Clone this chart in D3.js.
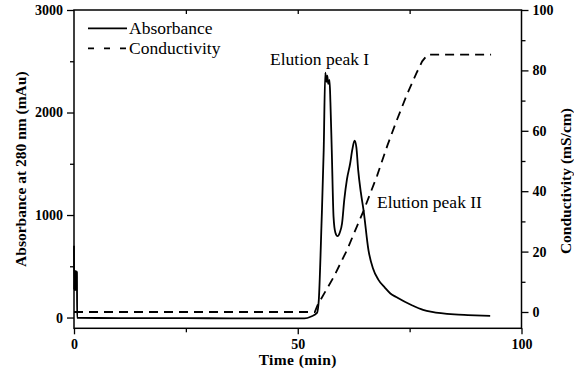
<!DOCTYPE html>
<html><head><meta charset="utf-8">
<script src="https://cdn.jsdelivr.net/npm/d3@7"></script>
<style>
body{margin:0;background:#fff;}
svg{display:block;}
svg text{font-family:"Liberation Serif","Tinos","Times New Roman","DejaVu Serif",serif;}
</style></head>
<body>
<svg id="chart" width="574" height="373"></svg>
<script>
// ---- data ----
const absTime = [0, 0.03, 0.1, 0.18, 0.26, 0.34, 0.42, 0.5, 0.58, 0.66, 0.7, 10, 20, 30, 40, 51.5, 53, 54.3, 54.7, 55.3, 55.8, 56.15, 56.4, 56.6, 56.8, 57.1, 57.3, 57.6, 58.0, 58.4, 58.9, 59.4, 59.9, 60.4, 61.0, 61.7, 62.2, 62.7, 63.1, 63.5, 64.1, 64.7, 65.8, 66.8, 68, 69.5, 70.7, 72, 75.5, 78, 80, 82, 85, 88, 93];
const absValue = [700, 270, 455, 268, 455, 268, 455, 268, 450, 440, -4, -5, -6, -7, -8, -9, 10, 45, 169, 900, 1634, 2389, 2300, 2360, 2280, 2317, 2100, 1634, 982, 830, 794, 830, 918, 1150, 1350, 1500, 1640, 1725, 1660, 1440, 1220, 1048, 657, 480, 370, 290, 235, 200, 120, 75, 55, 42, 30, 24, 16];
const condTime = [0, 53.8, 54.5, 58, 61, 64.7, 67.7, 70, 72, 74.4, 76.5, 77.8, 79, 93.2];
const condValue = [0, 0, 2.5, 11.5, 20.5, 33.5, 45, 55, 63, 72, 79, 83, 85.2, 85.2];
const xTicks = [0, 50, 100];
const xMinor = [25, 75];
const yLTicks = [0, 1000, 2000, 3000];
const yLMinor = [500, 1500, 2500];
const yRTicks = [0, 20, 40, 60, 80, 100];
const yRMinor = [10, 30, 50, 70, 90];
const legendLabels = ["Absorbance", "Conductivity"];
const annotations = [{text: "Elution peak I", t: 43.8, v: 2463}, {text: "Elution peak II", t: 67.7, v: 1068}];

// ---- layout ----
const L = 74, R = 521.5, T = 10, B = 328.3;
const svg = d3.select("#chart");
const x = d3.scaleLinear([0, 100], [L, R]);
const yL = d3.scaleLinear([-105, 3000], [B, T]);
const yR = d3.scaleLinear([-5.4, 100], [B, T]);

function styleAxis(g) {
  g.select(".domain").remove();
  g.selectAll("line").attr("stroke", "#000").attr("stroke-width", 1.3);
  g.selectAll("text").attr("font-family", null).attr("font-weight", "bold").attr("font-size", 14).attr("fill", "#000");
}
// bottom
svg.append("g").attr("transform", `translate(0,${B})`).call(d3.axisBottom(x).tickValues(xTicks).tickSize(6).tickPadding(5).tickFormat(d3.format("d"))).call(styleAxis);
svg.append("g").attr("transform", `translate(0,${B})`).call(d3.axisBottom(x).tickValues(xMinor).tickSize(4).tickFormat("")).call(styleAxis);
// top (inward)
svg.append("g").attr("transform", `translate(0,${T})`).call(d3.axisBottom(x).tickValues(xMinor.concat([50])).tickSize(4).tickFormat("")).call(styleAxis);
// left
svg.append("g").attr("transform", `translate(${L},0)`).call(d3.axisLeft(yL).tickValues(yLTicks).tickSize(7).tickPadding(4).tickFormat(d3.format("d"))).call(styleAxis);
svg.append("g").attr("transform", `translate(${L},0)`).call(d3.axisLeft(yL).tickValues(yLMinor).tickSize(4).tickFormat("")).call(styleAxis);
// right
svg.append("g").attr("transform", `translate(${R},0)`).call(d3.axisRight(yR).tickValues(yRTicks).tickSize(7).tickPadding(4).tickFormat(d3.format("d"))).call(styleAxis);
svg.append("g").attr("transform", `translate(${R},0)`).call(d3.axisRight(yR).tickValues(yRMinor).tickSize(4).tickFormat("")).call(styleAxis);

// frame
svg.append("rect").attr("x", L).attr("y", T).attr("width", R - L).attr("height", B - T)
  .attr("fill", "none").attr("stroke", "#000").attr("stroke-width", 1.5);

// conductivity line
const condData = condTime.map((t, i) => [t, condValue[i]]);
svg.append("path").datum(condData)
  .attr("d", d3.line().x(d => x(d[0])).y(d => yR(d[1])))
  .attr("fill", "none").attr("stroke", "#000").attr("stroke-width", 1.8).attr("stroke-dasharray", "9,6");

// absorbance line
const absData = absTime.map((t, i) => [t, absValue[i]]);
svg.append("path").datum(absData)
  .attr("d", d3.line().x(d => x(d[0])).y(d => yL(d[1])).curve(d3.curveMonotoneX))
  .attr("fill", "none").attr("stroke", "#000").attr("stroke-width", 1.8).attr("stroke-linejoin", "round");

// legend
const lg = svg.append("g");
[0, 1].forEach(i => {
  const yy = 28.3 + i * 20;
  lg.append("line").attr("x1", 88).attr("x2", 127).attr("y1", yy).attr("y2", yy)
    .attr("stroke", "#000").attr("stroke-width", 1.8).attr("stroke-dasharray", i ? "6,10" : null);
  lg.append("text").attr("x", 129).attr("y", yy + 5.5).text(legendLabels[i])
    .attr("font-size", 17.5).attr("fill", "#000");
});

// annotations
annotations.forEach(a => {
  svg.append("text").attr("x", x(a.t)).attr("y", yL(a.v)).text(a.text)
    .attr("font-size", 17.5).attr("fill", "#000");
});

// axis titles
svg.append("text").attr("x", (L + R) / 2).attr("y", 365).attr("text-anchor", "middle")
  .text("Time (min)").attr("font-weight", "bold").attr("font-size", 15.5).attr("letter-spacing", 0.4);
svg.append("text").attr("transform", `translate(26,${(T + B) / 2}) rotate(-90)`).attr("text-anchor", "middle")
  .text("Absorbance at 280 nm (mAu)").attr("font-weight", "bold").attr("font-size", 15.5);
svg.append("text").attr("transform", `translate(571,${(T + B) / 2 + 12}) rotate(-90)`).attr("text-anchor", "middle")
  .text("Conductivity (mS/cm)").attr("font-weight", "bold").attr("font-size", 15.5);
</script>
</body></html>
